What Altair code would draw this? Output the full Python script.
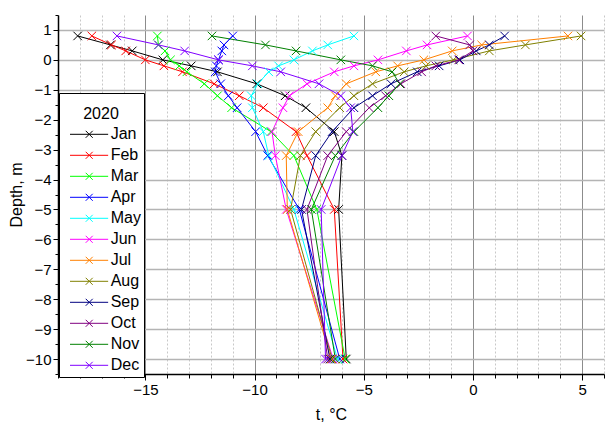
import altair as alt
import pandas as pd

# Sensor depths (m) and monthly temperature profiles (°C), 2020
depth = [0.8, 0.5, 0.3, 0.0, -0.2, -0.4, -0.8, -1.2, -1.6, -2.4, -3.2, -5.0, -10.0]

months = ["Jan", "Feb", "Mar", "Apr", "May", "Jun",
          "Jul", "Aug", "Sep", "Oct", "Nov", "Dec"]

jan = [-18.1, -16.6, -15.6, -14.2, -12.9, -11.7, -9.9, -8.6, -7.65, -6.35, -6.0, -6.15, -5.8]
feb = [-17.45, -16.55, -15.9, -15.0, -14.15, -13.3, -11.85, -10.7, -9.6, -8.1, -7.6, -6.35, -5.95]
mar = [-14.45, -14.4, -14.1, -13.85, -13.45, -13.1, -12.3, -11.7, -11.05, -9.25, -8.2, -7.15, -5.85]
apr = [-11.0, -11.4, -11.5, -11.65, -11.75, -11.8, -11.55, -11.2, -10.8, -9.95, -9.4, -7.95, -6.1]
may = [-5.45, -6.65, -7.35, -8.2, -8.9, -9.35, -9.85, -10.15, -10.1, -9.6, -9.35, -8.2, -6.2]
jun = [-0.25, -2.1, -3.05, -4.35, -5.45, -6.35, -7.6, -8.4, -8.7, -9.2, -9.05, -8.55, -6.4]
jul = [4.35, 0.4, -0.95, -2.25, -3.45, -4.45, -5.8, -6.3, -6.65, -8.0, -8.55, -8.5, -6.5]
aug = [4.95, 2.4, 0.75, -0.9, -2.15, -3.15, -4.6, -5.45, -6.1, -7.2, -7.9, -8.35, -6.45]
sep = [1.45, 0.75, 0.15, -0.6, -1.55, -2.55, -3.75, -4.6, -5.45, -6.45, -7.2, -7.85, -6.55]
oct_ = [-1.7, -0.15, 0.0, -0.65, -1.7, -2.35, -3.3, -4.0, -4.75, -5.8, -6.65, -7.6, -6.65]
nov = [-11.95, -9.5, -8.1, -6.05, -4.6, -3.7, -3.35, -3.85, -4.35, -5.45, -6.3, -7.4, -6.3]
dec = [-16.3, -14.4, -13.2, -11.65, -10.1, -8.8, -7.05, -6.05, -5.6, -5.5, -6.0, -6.95, -6.75]

series = [jan, feb, mar, apr, may, jun, jul, aug, sep, oct_, nov, dec]

colors = ["#000000", "#FF0000", "#00FF00", "#0000FF", "#00FFFF", "#FF00FF",
          "#FF8000", "#808000", "#000080", "#800080", "#008000", "#8000FF"]

x_major = [-15, -10, -5, 0, 5]
x_minor = [v for v in range(-19, 7) if v % 5 != 0]
y_major = list(range(-10, 2))
y_minor = [v + 0.5 for v in range(-11, 2)]

rows = []
for name, vals in zip(months, series):
    for i, (d, t) in enumerate(zip(depth, vals)):
        rows.append({"month": name, "depth": d, "temp": t, "step": i})
df = pd.DataFrame(rows)

FONT = "Liberation Sans"
CROSS = "M-1,-1L1,1M-1,1L1,-1"
# legend key: short line with a cross in the middle
LEGEND_KEY = "M0,0L10.9,0M4.49,-1L6.49,1M4.49,1L6.49,-1"

x_scale = alt.Scale(domain=[-19, 6], nice=False, zero=False)
y_scale = alt.Scale(domain=[-10.5, 1.5], nice=False, zero=False)

legend = alt.Legend(
    # the blank first line leaves headroom above the year
    title=["", "2020"], orient="none", legendX=1, legendY=78, direction="vertical",
    symbolType=LEGEND_KEY, symbolSize=49, symbolStrokeWidth=1,
    labelFont=FONT, labelFontSize=16, labelColor="black", labelOffset=32.7,
    titleFont=FONT, titleFontSize=16, titleFontWeight="normal", titleColor="black",
    titleAnchor="middle", titleAlign="center", titleLineHeight=10,
    titlePadding=4.3, padding=3, rowPadding=5, columnPadding=0,
    strokeColor="black", fillColor="white", cornerRadius=0,
)
color = alt.Color("month:N", sort=months,
                  scale=alt.Scale(domain=months, range=colors), legend=legend)

axis_x_major = alt.Axis(
    values=x_major, orient="bottom", grid=True, gridColor="#8c8c8c", gridWidth=1,
    domainColor="black", domainWidth=1.5, tickColor="black", tickSize=6, tickWidth=1,
    labelFont=FONT, labelFontSize=15, labelColor="black", labelPadding=2,
    title="t, °C", titleFont=FONT, titleFontSize=16, titleFontWeight="normal",
    titleColor="black", titlePadding=9,
)
axis_y_major = alt.Axis(
    values=y_major, orient="left", grid=True, gridColor="#b4b4b4", gridWidth=1.5,
    domainColor="black", domainWidth=1.5, tickColor="black", tickSize=5, tickWidth=1,
    labelFont=FONT, labelFontSize=15, labelColor="black", labelPadding=2,
    title="Depth, m", titleFont=FONT, titleFontSize=16, titleFontWeight="normal",
    titleColor="black", titlePadding=1,
)
axis_x_minor = alt.Axis(
    values=x_minor, orient="bottom", grid=True, gridColor="#c8c8c8", gridWidth=1,
    gridDash=[2, 2], domain=False, labels=False, tickColor="black", tickSize=4,
    tickWidth=1, title=None,
)
axis_y_minor = alt.Axis(
    values=y_minor, orient="left", grid=False, domain=False, labels=False,
    tickColor="black", tickSize=3, tickWidth=1, title=None,
)

lines = alt.Chart(df).mark_line(strokeWidth=1).encode(
    x=alt.X("temp:Q", scale=x_scale, axis=axis_x_major),
    y=alt.Y("depth:Q", scale=y_scale, axis=axis_y_major),
    color=color,
    order="step:Q",
)

points = alt.Chart(df).mark_point(
    shape=CROSS, size=72, filled=False, strokeWidth=1, opacity=1
).encode(
    x=alt.X("temp:Q", scale=x_scale, axis=axis_x_minor),
    y=alt.Y("depth:Q", scale=y_scale, axis=axis_y_minor),
    color=color,
)

chart = (
    alt.layer(lines, points)
    .resolve_axis(x="independent", y="independent")
    .properties(
        width=546, height=359, autosize="none",
        padding={"left": 58, "right": 5, "top": 15, "bottom": 49},
    )
    .configure(font=FONT)
    .configure_view(stroke=None)
)

chart.save("out.html", embed_options={"renderer": "svg", "actions": False})
